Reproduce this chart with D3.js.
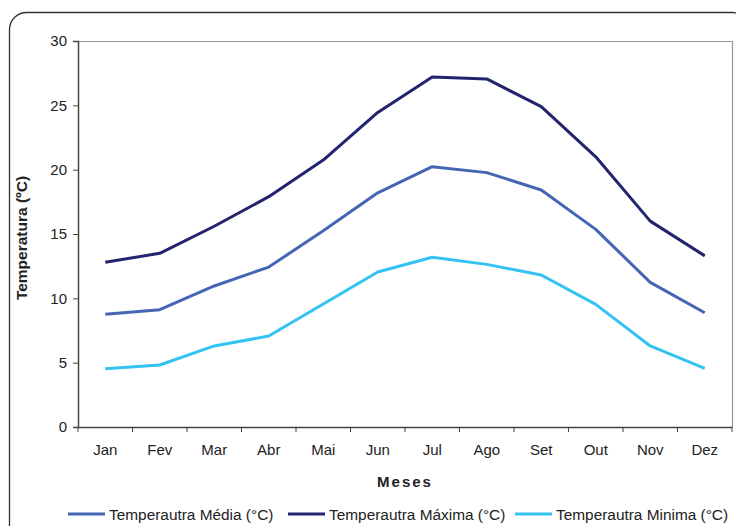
<!DOCTYPE html>
<html><head><meta charset="utf-8">
<script src="https://cdn.jsdelivr.net/npm/d3@7"></script>
<style>body{margin:0;background:#fff}svg{display:block}text{font-family:"Liberation Sans",Arial,sans-serif;fill:#222}</style>
</head><body><svg id="c" width="736" height="526"></svg>
<script>
const months = ["Jan","Fev","Mar","Abr","Mai","Jun","Jul","Ago","Set","Out","Nov","Dez"];
const media  = [8.76, 9.12, 10.96, 12.43, 15.25, 18.2, 20.23, 19.77, 18.42, 15.36, 11.24, 8.88];
const maxima = [12.8, 13.5, 15.6, 17.9, 20.75, 24.45, 27.2, 27.05, 24.9, 21.0, 16.0, 13.3];
const minima = [4.53, 4.82, 6.3, 7.07, 9.56, 12.05, 13.19, 12.64, 11.81, 9.53, 6.3, 4.56];
const yTicks = [0,5,10,15,20,25,30];
const seriesNames = ["Temperautra Média (°C)","Temperautra Máxima (°C)","Temperautra Minima (°C)"];
const seriesColors = ["#4466b4","#22246e","#33c3f3"];

const series = [media, maxima, minima].map((v,i)=>({name:seriesNames[i], color:seriesColors[i], values:v}));

const svg = d3.select("#c");
const L=78, R=732, T=41, B=427;

// outer rounded frame
svg.append("rect").attr("x",9.5).attr("y",12.5).attr("width",740).attr("height",530)
  .attr("rx",17).attr("fill","none").attr("stroke","#333").attr("stroke-width",1.3);

const x = d3.scaleBand().domain(months).range([L,R]).paddingInner(0).paddingOuter(0);
const y = d3.scaleLinear().domain([0,30]).range([B,T]);

// plot area border (top/right light gray)
svg.append("path").attr("d",`M${L},${T+0.5}H${R+0.5}V${B}`).attr("fill","none").attr("stroke","#999").attr("stroke-width",1.2);

// y axis
const ya = svg.append("g").attr("transform",`translate(${L},0)`)
  .call(d3.axisLeft(y).tickValues(yTicks).tickSize(5).tickPadding(6));
ya.select(".domain").attr("stroke","#444").attr("stroke-width",1.5);
ya.selectAll(".tick line").attr("stroke","#444");
ya.selectAll("text").style("font-size","15px").attr("fill","#222");

// x axis
const xa = svg.append("g").attr("transform",`translate(0,${B})`)
  .call(d3.axisBottom(x).tickSize(0).tickPadding(17));
xa.select(".domain").attr("stroke","#444").attr("stroke-width",1.5);
xa.selectAll("text").style("font-size","15px").attr("fill","#222");
// x ticks at band boundaries
const bounds = months.map(m=>x(m)).concat([R]);
svg.append("g").selectAll("line").data(bounds).join("line")
  .attr("x1",d=>d).attr("x2",d=>d).attr("y1",B).attr("y2",B+5)
  .attr("stroke","#444").attr("stroke-width",1);

// lines
const line = d3.line().x((d,i)=>x(months[i])+x.bandwidth()/2).y(d=>y(d));
svg.append("g").selectAll("path").data(series).join("path")
  .attr("d",d=>line(d.values)).attr("fill","none")
  .attr("stroke",d=>d.color).attr("stroke-width",3).attr("stroke-linejoin","round");

// axis titles
svg.append("text").attr("transform","translate(27,238) rotate(-90)").attr("text-anchor","middle")
  .style("font-size","15.5px").style("font-weight","bold").text("Temperatura (ºC)");
svg.append("text").attr("x",405).attr("y",487).attr("text-anchor","middle")
  .style("font-size","15px").style("font-weight","bold").style("letter-spacing","2px").text("Meses");

// legend
const legX = [68, 288, 515];
const lg = svg.append("g").selectAll("g").data(series).join("g")
  .attr("transform",(d,i)=>`translate(${legX[i]},514)`);
lg.append("line").attr("x1",0).attr("x2",37).attr("y1",0).attr("y2",0)
  .attr("stroke",d=>d.color).attr("stroke-width",3);
lg.append("text").attr("x",41).attr("y",5.5).style("font-size","15.4px").text(d=>d.name);
</script></body></html>
